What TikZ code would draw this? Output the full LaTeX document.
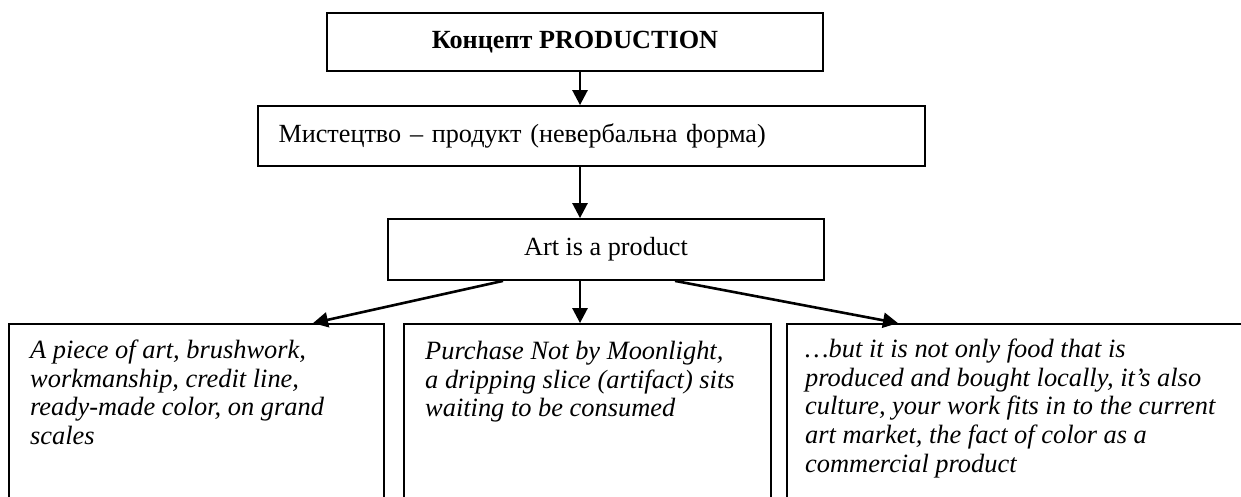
\documentclass[tikz,border=0pt]{standalone}
\usepackage{fontspec}
\setmainfont{Liberation Serif}
\usetikzlibrary{arrows.meta}
\begin{document}
\begin{tikzpicture}[x=1pt,y=-1pt,
  box/.style={draw, line width=1.8pt, rectangle, inner sep=0pt},
  conn/.style={line width=2.6pt, -{Triangle[length=15pt,width=15pt]}},
  txt/.style={font=\fontsize{26.2}{28.5}\selectfont},
  itxt/.style={font=\fontsize{26.4}{28.6}\selectfont\itshape, align=left, anchor=north west, inner sep=0pt}]
\useasboundingbox (0,0) rectangle (1241,496);
\clip (0,0) rectangle (1241,496);
% boxes
\node[box, txt, minimum width=496pt, minimum height=58pt] (top) at (575,42) {\bfseries Концепт PRODUCTION};
\node[box, txt, minimum width=667pt, minimum height=60pt, text width=626pt, align=left, inner xsep=20.5pt] (mid) at (591.5,136) {Мистецтво – продукт (невербальна форма)};
\node[box, txt, minimum width=436pt, minimum height=61pt] (art) at (606,249.5) {Art is a product};
\node[box, minimum width=375pt, minimum height=196pt] (b1) at (196.5,422) {};
\node[box, minimum width=367pt, minimum height=196pt] (b2) at (587.5,422) {};
\node[box, minimum width=513pt, minimum height=196pt] (b3) at (1043.5,422) {};
% texts in bottom boxes
\node[itxt] (t1) at (30,340) {A piece of art, brushwork,\\workmanship, credit line,\\ready-made color, on grand\\scales};
\node[itxt] (t2) at (425,341) {Purchase Not by Moonlight,\\a dripping slice (artifact) sits\\waiting to be consumed};
\node[itxt] (t3) at (805,339) {…but it is not only food that is\\produced and bought locally, it’s also\\culture, your work fits in to the current\\art market, the fact of color as a\\commercial product};
% connector x positions
\coordinate (c1) at (580,0);
\coordinate (c2) at (503,0);
\coordinate (c3) at (313,0);
\coordinate (c4) at (675,0);
\coordinate (c5) at (898,0);
\draw[conn] (top.south -| c1) -- (mid.north -| c1);
\draw[conn] (mid.south -| c1) -- (art.north -| c1);
\draw[conn] (art.south -| c1) -- (b2.north -| c1);
\draw[conn] (art.south -| c2) -- (b1.north -| c3);
\draw[conn] (art.south -| c4) -- (b3.north -| c5);
\end{tikzpicture}
\end{document}
